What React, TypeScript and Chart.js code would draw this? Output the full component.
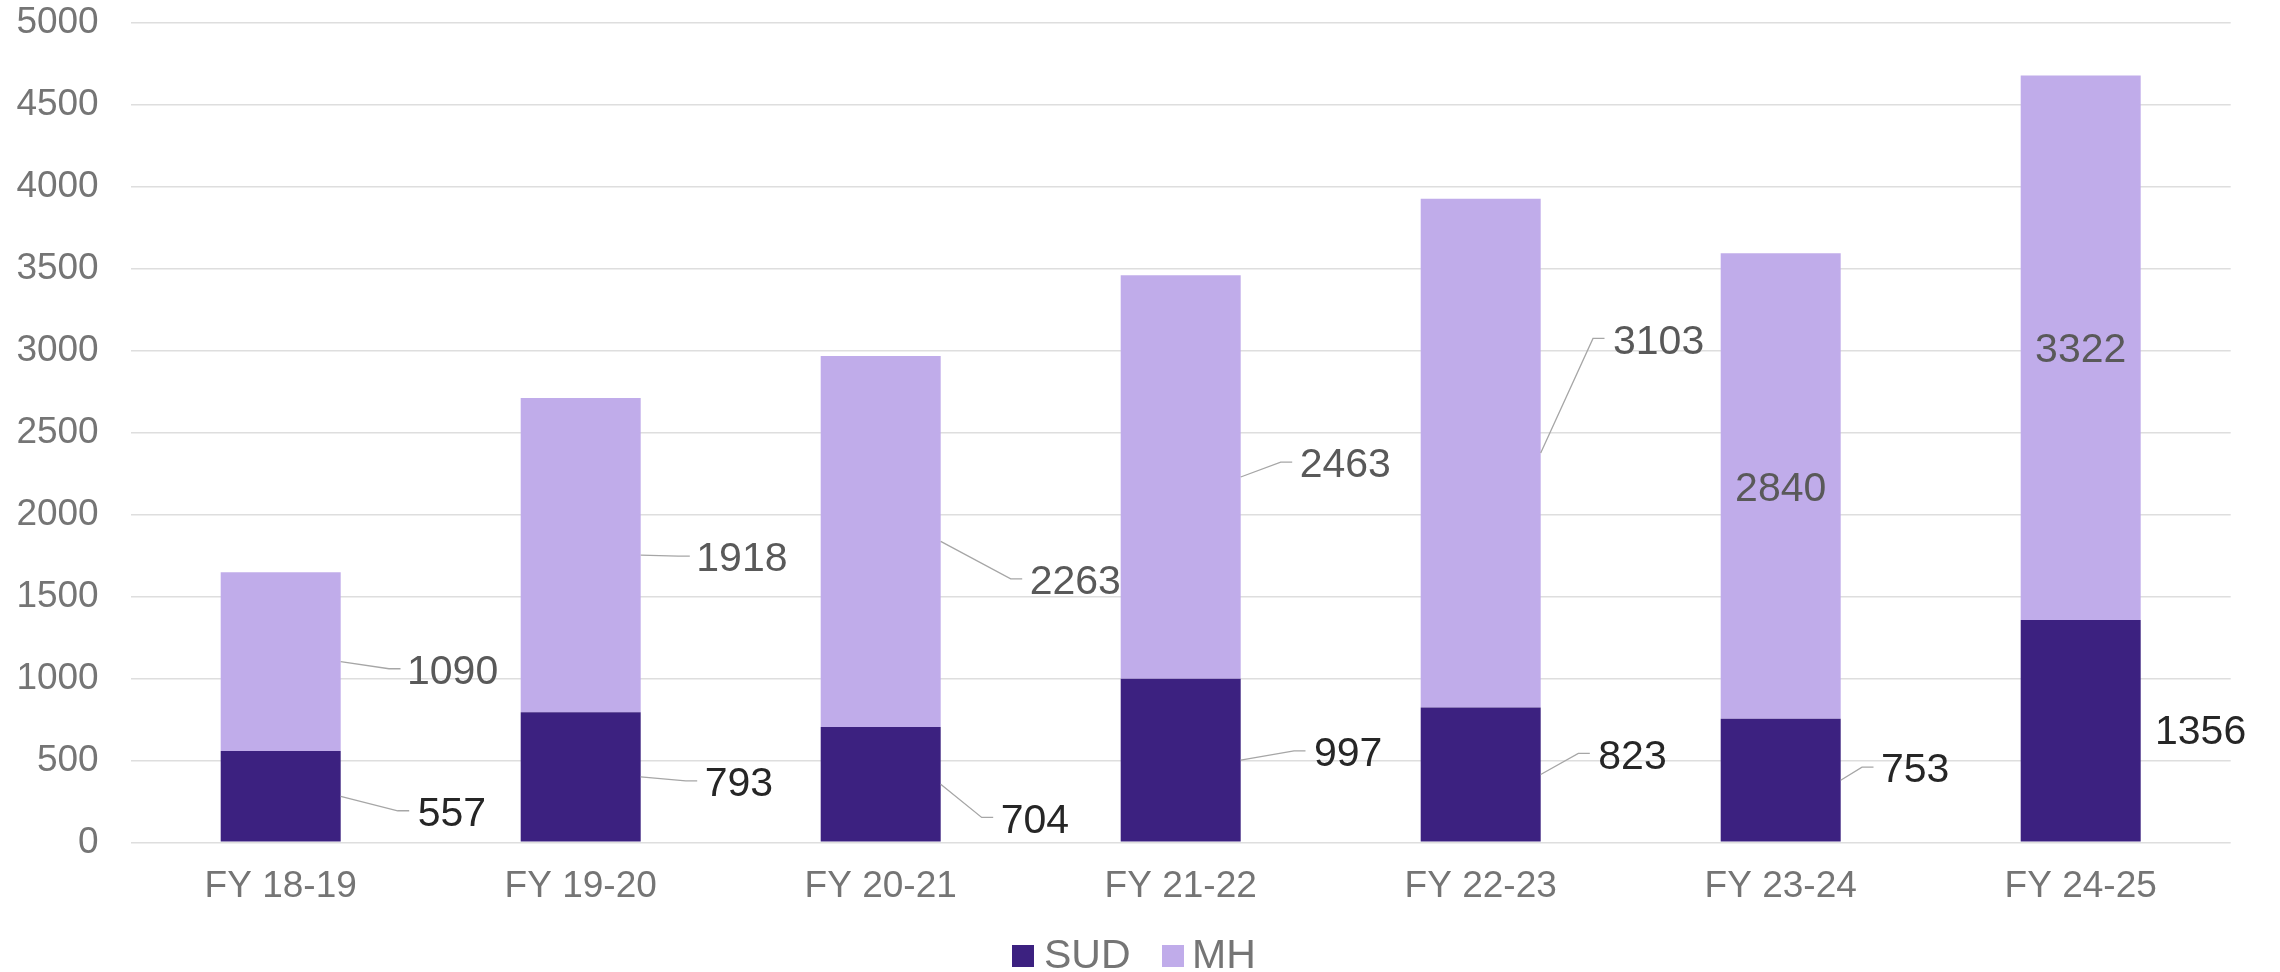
import React, { useEffect, useRef } from "react";
import { Chart, registerables } from "chart.js";

Chart.register(...registerables);

const FONT = '"Liberation Sans", Arial, sans-serif';

const categories = ["FY 18-19", "FY 19-20", "FY 20-21", "FY 21-22", "FY 22-23", "FY 23-24", "FY 24-25"];
const sudValues = [557, 793, 704, 997, 823, 753, 1356];
const mhValues = [1090, 1918, 2263, 2463, 3103, 2840, 3322];
const seriesNames = ["SUD", "MH"];
const seriesColors = ["#3C2180", "#C0ACEA"];
const labelColors = ["#262626", "#595959"];
const yMin = 0;
const yMax = 5000;
const yStep = 500;

// Data-label placement: [dx from bar right edge, dy from segment middle, leader line?]; null = centred in bar
type Place = [number, number, boolean] | null;
const sudLabelPlace: Place[] = [
  [78, 15, true],
  [66, 4.4, true],
  [62, 33.7, true],
  [74.3, -8.9, true],
  [58.6, -20.5, true],
  [42.3, -12.6, true],
  [17.3, -1, false],
];
const mhLabelPlace: Place[] = [
  [69.3, 7.6, true],
  [58.6, 1.6, true],
  [91, 37.9, true],
  [61, -14.3, true],
  [73.3, -114.1, true],
  null,
  null,
];

const dataLabelPlugin = {
  id: "dataLabels",
  afterDatasetsDraw(chart: any) {
    const ctx = chart.ctx as CanvasRenderingContext2D;
    ctx.save();
    ctx.font = `41px ${FONT}`;
    chart.data.datasets.forEach((ds: any, d: number) => {
      const meta = chart.getDatasetMeta(d);
      const places = d === 0 ? sudLabelPlace : mhLabelPlace;
      meta.data.forEach((el: any, i: number) => {
        const { x, y, base, width } = el.getProps(["x", "y", "base", "width"], true);
        const mid = (y + base) / 2;
        const right = x + width / 2;
        const text = String(ds.data[i]);
        ctx.fillStyle = labelColors[d];
        ctx.textBaseline = "alphabetic";
        const m = ctx.measureText(text);
        const capHalf = 0.358 * 41;
        const p = places[i];
        if (!p) {
          ctx.textAlign = "center";
          ctx.fillText(text, x, mid + capHalf);
          return;
        }
        const [dx, dy, leader] = p;
        const tx = right + dx;
        const ty = mid + dy;
        if (leader) {
          ctx.beginPath();
          ctx.strokeStyle = "#A6A6A6";
          ctx.lineWidth = 1.3;
          ctx.moveTo(right, mid);
          ctx.lineTo(tx - 21, ty - 0.5);
          ctx.lineTo(tx - 9.5, ty - 0.5);
          ctx.stroke();
        }
        ctx.textAlign = "left";
        ctx.fillText(text, tx + m.actualBoundingBoxLeft, ty + capHalf);
      });
    });
    ctx.restore();
  },
};

const legendPlugin = {
  id: "customLegend",
  afterDraw(chart: any) {
    const ctx = chart.ctx as CanvasRenderingContext2D;
    ctx.save();
    ctx.font = `41px ${FONT}`;
    ctx.textBaseline = "alphabetic";
    ctx.textAlign = "left";
    const boxX = [1012, 1162];
    const textX = [1045, 1195];
    chart.data.datasets.forEach((ds: any, d: number) => {
      ctx.fillStyle = ds.backgroundColor;
      ctx.fillRect(boxX[d], 945, 22, 22);
      ctx.fillStyle = "#757575";
      const m = ctx.measureText(ds.label);
      ctx.fillText(ds.label, textX[d] + m.actualBoundingBoxLeft, 967.5);
    });
    ctx.restore();
  },
};

export default function App() {
  const ref = useRef<HTMLCanvasElement>(null);
  useEffect(() => {
    if (!ref.current) return;
    const chart = new Chart(ref.current, {
      type: "bar",
      data: {
        labels: categories,
        datasets: [
          { label: seriesNames[0], data: sudValues, backgroundColor: seriesColors[0], borderWidth: 0 },
          { label: seriesNames[1], data: mhValues, backgroundColor: seriesColors[1], borderWidth: 0 },
        ],
      },
      options: {
        responsive: false,
        animation: false,
        devicePixelRatio: 1,
        layout: { padding: { left: 0, right: 49.3, top: 22.7, bottom: 0 } },
        plugins: {
          legend: { display: false },
          tooltip: { enabled: false },
        },
        datasets: { bar: { categoryPercentage: 1, barPercentage: 0.4 } },
        scales: {
          x: {
            stacked: true,
            grid: { display: false, drawTicks: false },
            border: { display: false },
            ticks: { color: "#757575", font: { family: FONT, size: 37 }, padding: 22, maxRotation: 0 },
            afterFit: (s: any) => {
              s.height = 972 - 842.3;
              s.paddingLeft = 0;
              s.paddingRight = 0;
            },
          },
          y: {
            stacked: true,
            min: yMin,
            max: yMax,
            grid: { color: "#DEDEDE", lineWidth: 1.5, drawTicks: false },
            border: { display: false },
            ticks: {
              stepSize: yStep,
              color: "#757575",
              font: { family: FONT, size: 37 },
              padding: 32,
              callback: (v: any) => String(v),
            },
            afterFit: (s: any) => {
              s.width = 130.7;
              s.paddingTop = 0;
              s.paddingBottom = 0;
            },
          },
        },
      },
      plugins: [dataLabelPlugin, legendPlugin],
    });
    return () => chart.destroy();
  }, []);
  return (
    <div style={{ position: "absolute", left: 0, top: 0, width: 2280, height: 972, background: "#fff" }}>
      <canvas ref={ref} width={2280} height={972} style={{ width: 2280, height: 972, display: "block" }} />
    </div>
  );
}
